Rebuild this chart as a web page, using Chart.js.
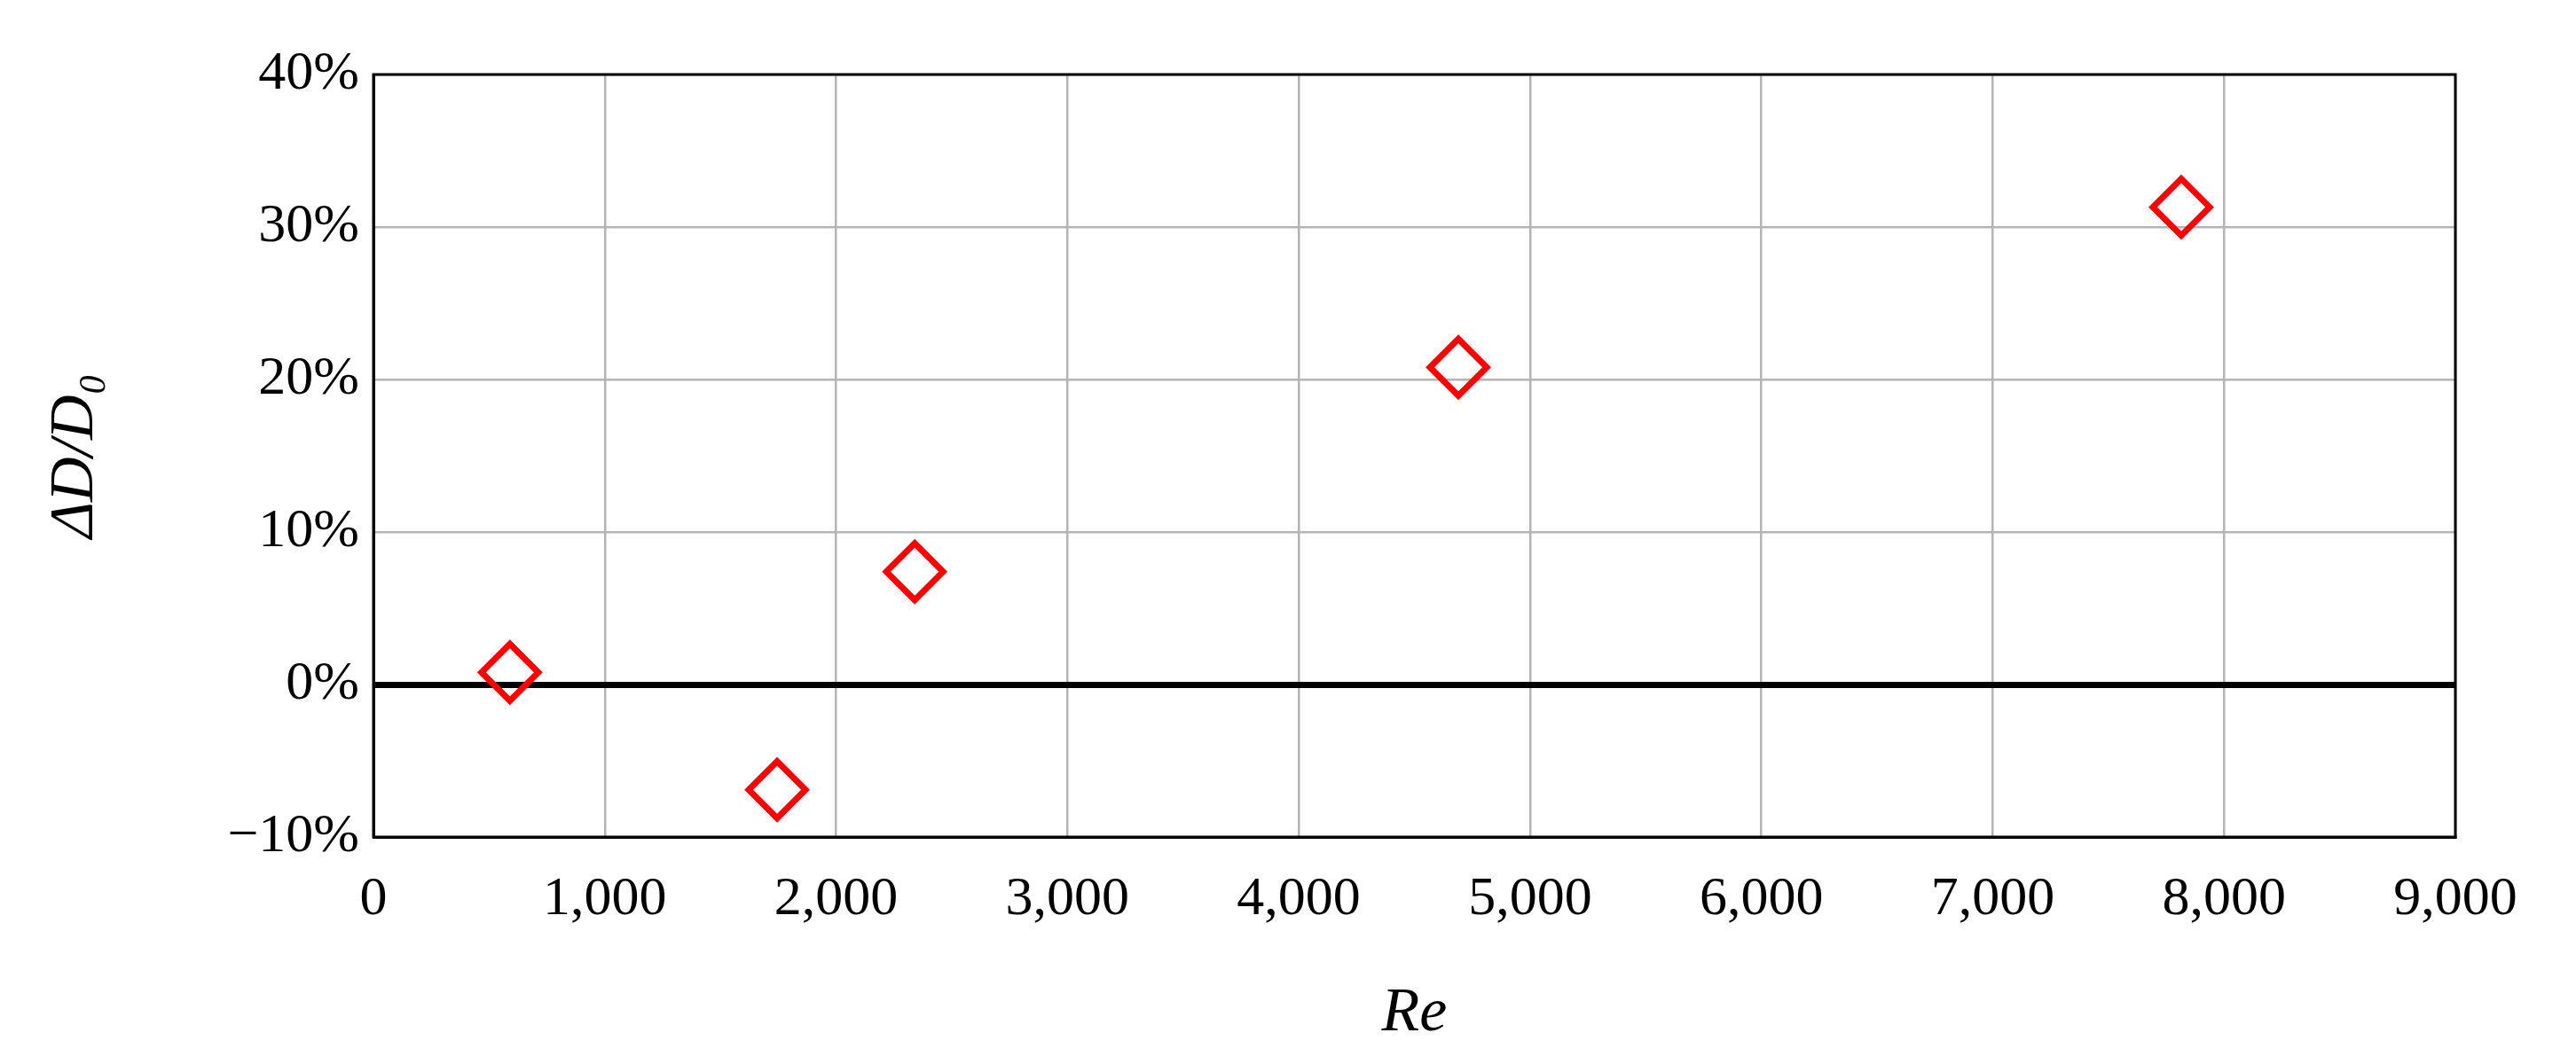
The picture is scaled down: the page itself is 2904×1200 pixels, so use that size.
<!DOCTYPE html>
<html><head><meta charset="utf-8">
<script src="https://cdn.jsdelivr.net/npm/chart.js@4"></script>
<style>html,body{margin:0;padding:0;background:#fff}#w{width:2904px;height:1200px}</style>
</head><body><div id="w"><canvas id="c"></canvas></div>
<script>
const reValues = [590, 1745, 2340, 4690, 7815];
const dValues = [0.008, -0.069, 0.074, 0.208, 0.313];
const xTicks = [0,1000,2000,3000,4000,5000,6000,7000,8000,9000];
const yTicks = [-0.1,0,0.1,0.2,0.3,0.4];
const serif = "'Liberation Serif','DejaVu Serif',serif";
const frame = {id:'frame',afterDraw(c){const a=c.chartArea,x=c.ctx;x.save();x.strokeStyle='#000';x.lineWidth=3;x.strokeRect(a.left,a.top,a.right-a.left,a.bottom-a.top);x.restore();}};
new Chart(document.getElementById('c'),{
type:'scatter',
data:{datasets:[{data:reValues.map((v,i)=>({x:v,y:dValues[i]})),pointStyle:'rectRot',pointRadius:32,pointHoverRadius:32,borderColor:'#ff0000',backgroundColor:'rgba(0,0,0,0)',borderWidth:7}]},
options:{responsive:true,maintainAspectRatio:false,animation:false,
layout:{padding:{left:40,top:84,right:136,bottom:10}},
plugins:{legend:{display:false},tooltip:{enabled:false}},
scales:{
x:{type:'linear',min:0,max:9000,afterBuildTicks(s){s.ticks=xTicks.map(v=>({value:v}));},
afterFit(s){s.height=246;},
grid:{color:'#b4b4b4',lineWidth:2.5,drawTicks:false},border:{color:'#000',width:3},
ticks:{color:'#000',padding:34,maxRotation:0,font:{family:serif,size:62},callback:v=>v.toLocaleString('en-US')},
title:{display:true,text:'Re',color:'#000',font:{family:serif,size:70,style:'italic'},padding:{top:4}}},
y:{min:-0.1,max:0.4,afterBuildTicks(s){s.ticks=yTicks.map(v=>({value:v}));},
afterFit(s){s.width=381;},
grid:{color:c=>Math.abs(c.tick.value)<1e-9?'#000':'#b4b4b4',lineWidth:c=>Math.abs(c.tick.value)<1e-9?7:2.5,drawTicks:false},border:{color:'#000',width:3},
ticks:{color:'#000',padding:16,font:{family:serif,size:62},callback:v=>{const p=Math.round(v*100);return (p<0?'\u2212'+(-p):p)+'%';}},
title:{display:true,text:'\u0394D/D\u2080',color:'#000',font:{family:serif,size:70,style:'italic'},padding:{bottom:10}}}
}},plugins:[frame]});
</script></body></html>
